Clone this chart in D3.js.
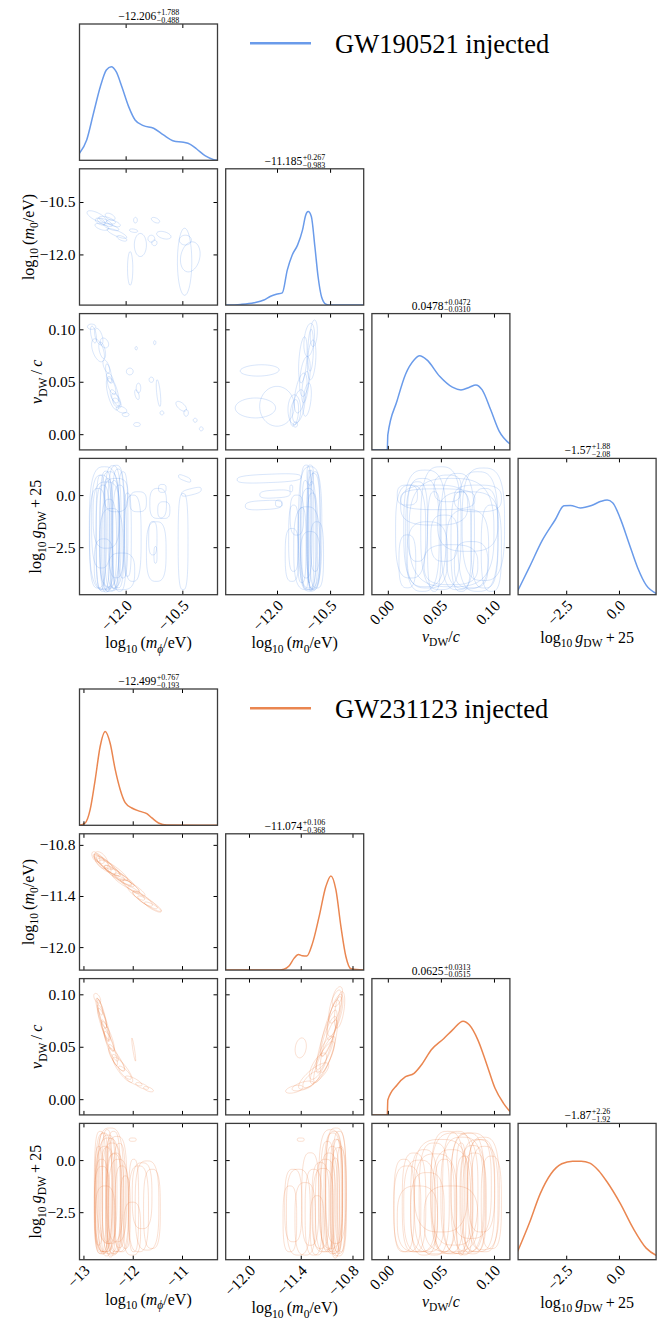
<!DOCTYPE html>
<html>
<head>
<meta charset="utf-8">
<script src="https://cdn.jsdelivr.net/npm/d3@7"></script>
<style>
  body { margin: 0; background: #fff; }
  svg text { fill: #000; }
</style>
</head>
<body>
<svg id="chart" width="667" height="1322"></svg>
<script>
// ---------- labels ----------
const labMphi = [["log", ""], ["10", "sub"], ["\u2009(", ""], ["m", "it"], ["\u03d5", "itsub"], ["/eV)", ""]];
const labM0 = [["log", ""], ["10", "sub"], ["\u2009(", ""], ["m", "it"], ["0", "sub"], ["/eV)", ""]];
const labV = [["v", "it"], ["DW", "sub"], ["/", ""], ["c", "it"]];
const labVy = [["v", "it"], ["DW", "sub"], ["\u2009/\u2009", ""], ["c", "it"]];
const labG = [["log", ""], ["10", "sub"], ["\u2009", ""], ["g", "it"], ["DW", "sub"], ["\u2009+\u200925", ""]];
const xLabels = [labMphi, labM0, labV, labG];
const yLabels = [null, labM0, labVy, labG];

// ---------- GW190521 (top) ----------
const rangesA = [[-13.22, -9.57], [-13.45, -9.55], [-0.015, 0.115], [-4.78, 1.76]];
const ticksA = [[-12.0, -10.5], [-12.0, -10.5], [0, 0.05, 0.10], [-2.5, 0.0]];
const tickLabelsA = [["\u221212.0", "\u221210.5"], ["\u221212.0", "\u221210.5"], ["0.00", "0.05", "0.10"], ["\u22122.5", "0.0"]];
const titlesA = [["\u221212.206", "+1.788", "\u22120.488"], ["\u221211.185", "+0.267", "\u22120.983"],
                 ["0.0478", "+0.0472", "\u22120.0310"], ["\u22121.57", "+1.88", "\u22122.08"]];

const kdeA0 = [[-13.22, 0.051], [-13.03, 0.149], [-12.85, 0.345], [-12.67, 0.54], [-12.51, 0.663], [-12.38, 0.687],
  [-12.25, 0.65], [-12.10, 0.54], [-11.92, 0.394], [-11.75, 0.296], [-11.53, 0.254], [-11.26, 0.235], [-11.00, 0.186],
  [-10.73, 0.142], [-10.47, 0.132], [-10.29, 0.117], [-10.12, 0.083], [-9.89, 0.032], [-9.67, 0.005], [-9.57, 0]];
const kdeA1 = [[-13.45, 0], [-13.03, 0.005], [-12.65, 0.017], [-12.37, 0.037], [-12.18, 0.065], [-12.02, 0.08],
  [-11.85, 0.09], [-11.71, 0.257], [-11.57, 0.368], [-11.42, 0.44], [-11.28, 0.55], [-11.19, 0.66], [-11.12, 0.686],
  [-11.03, 0.65], [-10.93, 0.43], [-10.84, 0.21], [-10.74, 0.06], [-10.62, 0.007], [-10.5, 0], [-9.55, 0]];
const kdeA2 = [[-0.015, 0], [-0.0005, 0], [0, 0.11], [0.0087, 0.36], [0.0167, 0.555], [0.0247, 0.66], [0.030, 0.69],
  [0.0368, 0.66], [0.0488, 0.54], [0.0608, 0.46], [0.0689, 0.44], [0.0769, 0.46], [0.0829, 0.477], [0.0889, 0.44],
  [0.0969, 0.294], [0.105, 0.136], [0.115, 0.044]];
const kdeA3 = [[-4.8, 0.027], [-4.25, 0.2], [-3.63, 0.4], [-3.02, 0.55], [-2.61, 0.652], [-2.3, 0.655], [-1.83, 0.637],
  [-1.3, 0.655], [-0.85, 0.685], [-0.56, 0.694], [-0.3, 0.675], [0.06, 0.56], [0.47, 0.38], [0.88, 0.2], [1.29, 0.07], [1.8, 0.007]];

// contour ellipses: [centre x, centre y, half width, half height, correlation]
const contA10 = [[-12.76, -10.92, 0.26, 0.17, -0.7], [-12.49, -11.02, 0.22, 0.11, -0.6], [-12.32, -11.11, 0.18, 0.10, -0.6],
  [-12.63, -11.21, 0.18, 0.10, -0.5], [-12.23, -11.40, 0.26, 0.14, -0.8], [-12.10, -11.54, 0.13, 0.08, -0.6],
  [-12.41, -10.92, 0.13, 0.10, -0.5], [-12.67, -11.06, 0.13, 0.10, -0.5], [-11.74, -11.02, 0.05, 0.08, 0],
  [-11.21, -11.02, 0.11, 0.08, -0.5], [-11.79, -11.32, 0.11, 0.05, -0.3], [-11.61, -11.73, 0.16, 0.33, 0],
  [-11.32, -11.55, 0.09, 0.10, 0], [-11.24, -11.67, 0.07, 0.08, 0], [-10.99, -11.45, 0.19, 0.11, -0.4],
  [-10.44, -12.21, 0.19, 0.96, 0], [-10.29, -12.07, 0.26, 0.43, 0.2], [-11.88, -12.40, 0.07, 0.48, 0], [-10.42, -11.59, 0.16, 0.14, 0],
  [-12.55, -11.08, 0.2, 0.12, -0.7], [-12.38, -11.22, 0.2, 0.1, -0.7]];
const contA20 = [[-12.90, 0.1025, 0.11, 0.0025, 0], [-12.71, 0.093, 0.11, 0.0079, -0.5], [-12.62, 0.080, 0.09, 0.0079, -0.5],
  [-12.56, 0.087, 0.11, 0.0047, -0.3], [-12.51, 0.0646, 0.09, 0.0063, -0.6], [-12.42, 0.0535, 0.09, 0.0047, -0.5],
  [-12.37, 0.0456, 0.11, 0.0079, -0.6], [-12.30, 0.0361, 0.11, 0.0063, -0.6], [-12.23, 0.0297, 0.11, 0.0047, -0.5],
  [-12.11, 0.0234, 0.14, 0.0032, -0.4], [-12.00, 0.0187, 0.09, 0.0019, 0], [-11.72, 0.082, 0.03, 0.0016, 0],
  [-11.23, 0.0873, 0.03, 0.0019, 0], [-11.89, 0.0598, 0.09, 0.0032, 0], [-11.70, 0.0377, 0.06, 0.0047, -0.5],
  [-11.66, 0.044, 0.06, 0.0047, 0], [-11.32, 0.0519, 0.06, 0.0025, 0], [-11.13, 0.0392, 0.06, 0.0127, -0.6],
  [-11.04, 0.0203, 0.05, 0.0019, 0], [-11.70, 0.0092, 0.09, 0.0019, 0], [-10.53, 0.0266, 0.14, 0.0047, -0.6],
  [-10.40, 0.0203, 0.06, 0.0032, 0], [-10.16, 0.0133, 0.05, 0.0019, 0], [-10.00, 0.0051, 0.05, 0.0019, 0],
  [-12.73, 0.080, 0.17, 0.011, -0.5], [-12.34, 0.039, 0.17, 0.016, -0.6], [-12.85, 0.095, 0.08, 0.008, -0.5],
  [-12.45, 0.058, 0.08, 0.009, -0.6], [-12.25, 0.033, 0.12, 0.006, -0.6]];
const contA21 = [[-12.49, 0.0608, 0.55, 0.0054, 0.1], [-12.61, 0.025, 0.57, 0.0095, 0], [-12.0, 0.0266, 0.49, 0.019, 0],
  [-11.51, 0.0234, 0.18, 0.0142, 0], [-11.09, 0.0899, 0.15, 0.0158, 0.3], [-11.02, 0.0709, 0.12, 0.019, 0.3],
  [-11.21, 0.055, 0.15, 0.019, 0.4], [-11.33, 0.0392, 0.18, 0.019, 0.5], [-11.39, 0.0266, 0.18, 0.0158, 0.4],
  [-10.96, 0.0962, 0.10, 0.0127, 0.2], [-11.15, 0.0329, 0.12, 0.0158, 0.4], [-11.51, 0.0203, 0.12, 0.0127, 0.3],
  [-11.27, 0.0709, 0.12, 0.022, 0.4], [-11.48, 0.0092, 0.06, 0.0025, 0], [-11.05, 0.08, 0.08, 0.02, 0.2],
  [-11.2, 0.045, 0.1, 0.015, 0.5]];
const contA30 = [[-12.56, -1.59, 0.40, 2.95, 0], [-12.42, -1.75, 0.26, 2.87, 0], [-12.60, -2.07, 0.18, 2.55, 0],
  [-12.47, -1.91, 0.13, 2.71, 0], [-12.34, -1.59, 0.22, 3.0, 0], [-12.25, -1.27, 0.22, 2.7, 0], [-12.16, -2.07, 0.18, 2.55, 0],
  [-12.64, -1.27, 0.26, 2.23, 0], [-12.73, -2.07, 0.22, 2.39, 0], [-12.38, -2.55, 0.31, 1.91, 0], [-12.51, -0.96, 0.35, 1.59, 0],
  [-12.07, -1.43, 0.13, 2.55, 0], [-11.81, -2.07, 0.22, 2.07, 0], [-11.67, -0.32, 0.22, 0.48, 0], [-12.11, -3.66, 0.35, 0.88, 0],
  [-12.25, 0.0, 0.31, 0.80, 0], [-11.14, -0.40, 0.22, 0.72, 0], [-11.03, 0.32, 0.10, 0.19, 0], [-11.19, -2.71, 0.26, 1.43, 0],
  [-11.28, -2.07, 0.11, 0.80, 0], [-11.21, -2.87, 0.04, 0.40, 0], [-10.48, -2.23, 0.13, 2.31, 0], [-10.26, 0.16, 0.26, 0.19, 0.6],
  [-10.44, 0.80, 0.16, 0.16, -0.7], [-10.99, -0.72, 0.16, 0.40, 0], [-12.52, -1.75, 0.16, 2.9, 0], [-12.30, -1.9, 0.12, 2.6, 0],
  [-12.44, -2.3, 0.2, 2.1, 0], [-12.66, -1.8, 0.12, 2.75, 0], [-12.2, -1.6, 0.16, 2.85, 0], [-11.95, -1.9, 0.1, 2.0, 0],
  [-12.58, -3.3, 0.25, 1.2, 0]];
const contA31 = [[-12.225, 0.80, 0.90, 0.21, 0.3], [-12.056, 0.05, 0.43, 0.19, 0.2], [-12.375, -0.48, 0.52, 0.22, 0.2],
  [-11.953, -0.40, 0.09, 0.16, 0], [-11.597, 0.32, 0.04, 0.16, 0], [-11.063, -1.59, 0.33, 2.95, 0], [-10.969, -1.75, 0.19, 2.79, 0],
  [-11.016, -1.91, 0.11, 2.55, 0], [-11.110, -2.07, 0.23, 2.39, 0], [-10.922, -1.27, 0.14, 2.39, 0], [-11.157, -2.55, 0.37, 1.99, 0],
  [-11.531, -2.07, 0.14, 1.59, 0], [-11.438, -0.96, 0.19, 0.96, 0], [-10.875, -2.87, 0.19, 1.59, 0], [-11.063, -3.18, 0.28, 1.43, 0],
  [-11.175, -1.27, 0.17, 2.71, 0], [-11.063, 0.96, 0.09, 0.48, 0], [-11.578, -2.87, 0.19, 1.27, 0], [-11.04, -1.7, 0.08, 2.9, 0],
  [-11.0, -2.2, 0.15, 2.3, 0], [-11.09, -1.5, 0.06, 2.7, 0], [-11.2, -1.9, 0.1, 2.6, 0], [-11.3, -2.4, 0.12, 1.8, 0]];
const contA32 = [[0.0215, -1.75, 0.0142, 2.23, 0], [0.0326, -1.91, 0.0158, 2.71, 0], [0.050, -1.59, 0.019, 2.95, 0],
  [0.0658, -1.75, 0.0158, 2.79, 0], [0.0848, -1.75, 0.019, 2.87, 0], [0.0911, -2.07, 0.0127, 2.39, 0], [0.0753, -1.27, 0.0285, 1.43, 0],
  [0.0532, -2.07, 0.0127, 1.11, 0], [0.0595, -3.34, 0.0253, 0.96, 0], [0.0373, -2.87, 0.019, 1.59, 0], [0.0184, 0.0, 0.0095, 0.48, 0],
  [0.0848, -0.16, 0.0222, 0.64, 0], [0.0437, -0.48, 0.0316, 0.96, 0], [0.0785, -3.34, 0.0158, 1.11, 0], [0.0279, -1.27, 0.0095, 1.91, 0],
  [0.0975, -2.55, 0.0095, 2.07, 0], [0.0563, 0.32, 0.0127, 0.64, 0], [0.069, -2.23, 0.0095, 2.39, 0], [0.0184, -3.18, 0.0079, 1.27, 0],
  [0.0437, -2.23, 0.0063, 2.39, 0], [0.06, -1.8, 0.04, 2.6, 0], [0.035, -1.6, 0.02, 2.8, 0], [0.09, -1.4, 0.02, 2.7, 0],
  [0.075, -2.6, 0.02, 1.9, 0], [0.047, -0.2, 0.035, 0.5, 0]];

// ---------- GW231123 (bottom) ----------
const rangesB = [[-13.08, -10.28], [-12.27, -10.67], [-0.015, 0.115], [-4.78, 1.76]];
const ticksB = [[-13, -12, -11], [-12.0, -11.4, -10.8], [0, 0.05, 0.10], [-2.5, 0.0]];
const tickLabelsB = [["\u221213", "\u221212", "\u221211"], ["\u221212.0", "\u221211.4", "\u221210.8"], ["0.00", "0.05", "0.10"], ["\u22122.5", "0.0"]];
const titlesB = [["\u221212.499", "+0.767", "\u22120.193"], ["\u221211.074", "+0.106", "\u22120.368"],
                 ["0.0625", "+0.0313", "\u22120.0515"], ["\u22121.87", "+2.26", "\u22121.92"]];

const kdeB0 = [[-13.08, 0], [-12.965, 0.017], [-12.864, 0.115], [-12.762, 0.334], [-12.661, 0.578], [-12.559, 0.688],
  [-12.458, 0.602], [-12.356, 0.41], [-12.255, 0.263], [-12.153, 0.166], [-12.018, 0.127], [-11.849, 0.102], [-11.714, 0.085],
  [-11.612, 0.054], [-11.477, 0.017], [-11.308, 0.002], [-10.28, 0]];
const kdeB1 = [[-12.27, 0], [-11.672, 0], [-11.594, 0.007], [-11.536, 0.03], [-11.478, 0.086], [-11.427, 0.115], [-11.381, 0.105],
  [-11.33, 0.103], [-11.264, 0.196], [-11.187, 0.392], [-11.109, 0.613], [-11.05, 0.691], [-10.992, 0.588], [-10.934, 0.319],
  [-10.876, 0.098], [-10.818, 0.01], [-10.67, 0]];
const kdeB2 = [[-0.015, 0], [-0.0005, 0], [0, 0.11], [0.0087, 0.22], [0.0167, 0.28], [0.0247, 0.305], [0.0327, 0.378],
  [0.0408, 0.476], [0.0528, 0.561], [0.0608, 0.622], [0.0709, 0.688], [0.0769, 0.659], [0.0849, 0.549], [0.0929, 0.378],
  [0.101, 0.195], [0.109, 0.085], [0.115, 0.024]];
const kdeB3 = [[-4.8, 0.061], [-4.25, 0.267], [-3.73, 0.485], [-3.22, 0.631], [-2.71, 0.704], [-2.2, 0.723], [-1.79, 0.723],
  [-1.38, 0.709], [-0.97, 0.655], [-0.56, 0.57], [0.06, 0.413], [0.67, 0.231], [1.29, 0.085], [1.8, 0.029]];

const contB10 = [[-12.68, -10.96, 0.10, 0.06, -0.6], [-12.61, -11.02, 0.17, 0.10, -0.8], [-12.54, -11.04, 0.20, 0.10, -0.85],
  [-12.47, -11.07, 0.20, 0.09, -0.85], [-12.37, -11.13, 0.20, 0.09, -0.85], [-12.27, -11.17, 0.24, 0.10, -0.9],
  [-12.17, -11.21, 0.20, 0.08, -0.85], [-12.03, -11.29, 0.17, 0.08, -0.85], [-11.93, -11.37, 0.17, 0.08, -0.85],
  [-11.80, -11.43, 0.20, 0.09, -0.85], [-11.66, -11.49, 0.24, 0.09, -0.9], [-11.59, -11.53, 0.17, 0.06, -0.85],
  [-12.64, -10.98, 0.14, 0.10, -0.5], [-12.41, -11.09, 0.31, 0.13, -0.9], [-12.14, -11.25, 0.27, 0.10, -0.9], [-12.75, -10.94, 0.08, 0.06, -0.5],
  [-12.5, -11.05, 0.25, 0.12, -0.9], [-12.3, -11.16, 0.28, 0.12, -0.9], [-12.0, -11.3, 0.25, 0.1, -0.9], [-11.75, -11.45, 0.25, 0.1, -0.9],
  [-12.6, -11.0, 0.2, 0.09, -0.85]];
const contB20 = [[-12.72, 0.0962, 0.07, 0.0047, -0.5], [-12.68, 0.0883, 0.07, 0.0079, -0.7], [-12.62, 0.0773, 0.09, 0.0095, -0.8],
  [-12.55, 0.0662, 0.09, 0.0095, -0.8], [-12.48, 0.0552, 0.10, 0.0095, -0.8], [-12.39, 0.0442, 0.10, 0.0079, -0.8],
  [-12.29, 0.0347, 0.13, 0.0079, -0.8], [-12.16, 0.0252, 0.13, 0.0063, -0.8], [-11.98, 0.0174, 0.17, 0.0047, -0.8],
  [-11.81, 0.0126, 0.13, 0.0032, -0.7], [-11.68, 0.0095, 0.10, 0.0025, -0.6], [-12.63, 0.082, 0.10, 0.0142, -0.85],
  [-12.50, 0.060, 0.13, 0.0142, -0.85], [-12.33, 0.0379, 0.16, 0.011, -0.85], [-11.98, 0.0473, 0.04, 0.011, -0.9],
  [-12.59, 0.0726, 0.13, 0.0174, -0.85], [-12.6, 0.075, 0.11, 0.02, -0.9], [-12.45, 0.05, 0.14, 0.018, -0.9], [-12.2, 0.028, 0.2, 0.012, -0.85]];
const contB21 = [[-11.40, 0.0489, 0.065, 0.0095, 0.2], [-11.475, 0.0095, 0.10, 0.0038, 0.5], [-11.375, 0.0126, 0.125, 0.0047, 0.6],
  [-11.275, 0.0189, 0.10, 0.0079, 0.7], [-11.20, 0.0315, 0.10, 0.0126, 0.7], [-11.125, 0.0442, 0.10, 0.0158, 0.8],
  [-11.075, 0.060, 0.09, 0.019, 0.8], [-11.025, 0.0757, 0.075, 0.019, 0.7], [-11.00, 0.0883, 0.075, 0.0158, 0.6],
  [-10.975, 0.0978, 0.06, 0.0095, 0.5], [-11.05, 0.0694, 0.125, 0.0284, 0.85], [-11.125, 0.0379, 0.125, 0.022, 0.85],
  [-11.25, 0.0221, 0.175, 0.0126, 0.8], [-10.95, 0.0852, 0.06, 0.0174, 0.5], [-11.075, 0.0505, 0.10, 0.025, 0.8],
  [-11.1, 0.055, 0.12, 0.03, 0.85], [-11.0, 0.08, 0.09, 0.02, 0.7], [-11.15, 0.035, 0.14, 0.02, 0.85]];
const contB30 = [[-12.66, -1.55, 0.12, 2.93, 0], [-12.59, -1.55, 0.17, 2.85, 0], [-12.56, -1.87, 0.20, 2.53, 0],
  [-12.52, -1.23, 0.10, 2.69, 0], [-12.49, -1.71, 0.24, 2.77, 0], [-12.63, -2.18, 0.14, 2.22, 0], [-12.42, -1.87, 0.20, 2.69, 0],
  [-12.35, -2.03, 0.17, 2.37, 0], [-12.69, -1.71, 0.08, 2.37, 0], [-12.29, -2.18, 0.20, 2.22, 0], [-12.46, -1.23, 0.27, 2.77, 0],
  [-12.22, -2.34, 0.14, 2.06, 0], [-12.15, -2.50, 0.10, 1.74, 0], [-12.39, -1.55, 0.14, 2.93, 0], [-12.32, -1.39, 0.20, 2.53, 0],
  [-11.88, -2.34, 0.20, 2.06, 0], [-11.71, -2.18, 0.24, 2.14, 0], [-11.61, -2.34, 0.17, 1.90, 0], [-11.98, -2.18, 0.10, 2.22, 0],
  [-12.00, 0.98, 0.07, 0.08, 0], [-12.56, -2.82, 0.20, 1.58, 0], [-12.01, -3.29, 0.17, 1.27, 0], [-11.81, -1.71, 0.20, 1.58, 0],
  [-12.6, -1.6, 0.1, 2.9, 0], [-12.53, -2.0, 0.12, 2.6, 0], [-12.45, -1.8, 0.1, 2.85, 0], [-12.38, -2.1, 0.16, 2.4, 0],
  [-12.62, -2.4, 0.16, 2.1, 0], [-12.27, -1.7, 0.12, 2.5, 0], [-12.5, -1.4, 0.18, 2.6, 0]];
const contB31 = [[-11.013, -1.55, 0.099, 2.93, 0], [-10.974, -1.71, 0.059, 2.69, 0], [-11.033, -1.87, 0.079, 2.53, 0],
  [-10.993, -1.23, 0.118, 2.77, 0], [-11.072, -2.03, 0.099, 2.37, 0], [-10.934, -1.87, 0.047, 2.53, 0], [-11.112, -2.18, 0.118, 2.22, 0],
  [-11.053, -1.39, 0.138, 2.85, 0], [-10.954, -1.55, 0.079, 2.93, 0], [-11.171, -2.18, 0.099, 2.06, 0], [-11.25, -2.50, 0.099, 2.06, 0],
  [-11.349, -2.82, 0.118, 1.74, 0], [-11.428, -2.50, 0.138, 2.06, 0], [-11.487, -2.18, 0.099, 1.74, 0], [-11.289, -1.87, 0.099, 2.22, 0],
  [-11.40, 0.98, 0.04, 0.08, 0], [-11.21, -3.13, 0.079, 1.42, 0], [-11.526, -2.82, 0.079, 1.58, 0], [-10.99, -1.8, 0.07, 2.8, 0],
  [-11.03, -1.6, 0.1, 2.9, 0], [-10.96, -2.0, 0.09, 2.6, 0], [-11.09, -1.7, 0.08, 2.6, 0], [-11.14, -2.4, 0.12, 2.0, 0], [-11.0, -2.3, 0.05, 2.4, 0]];
const contB32 = [[0.0152, -2.18, 0.0095, 2.22, 0], [0.0247, -2.03, 0.0111, 2.37, 0], [0.0342, -2.03, 0.0127, 2.53, 0],
  [0.0437, -1.87, 0.0142, 2.69, 0], [0.0563, -1.55, 0.0158, 2.93, 0], [0.0658, -1.55, 0.0142, 2.93, 0], [0.0753, -1.55, 0.0158, 2.85, 0],
  [0.0848, -1.71, 0.0158, 2.69, 0], [0.0911, -1.87, 0.0127, 2.53, 0], [0.0975, -2.03, 0.0095, 2.22, 0], [0.0627, -1.39, 0.0222, 2.69, 0],
  [0.0785, -1.23, 0.019, 2.53, 0], [0.0532, -2.18, 0.0095, 2.22, 0], [0.0722, -2.18, 0.0079, 2.37, 0], [0.0817, -2.03, 0.0111, 2.37, 0],
  [0.0184, -2.34, 0.0127, 2.06, 0], [0.0373, -2.50, 0.0158, 1.90, 0], [0.0595, -2.82, 0.0253, 1.58, 0], [0.088, -1.23, 0.0127, 2.22, 0],
  [0.050, -1.23, 0.0253, 2.22, 0], [0.069, -1.87, 0.0047, 2.69, 0], [0.0279, -2.82, 0.019, 1.58, 0], [0.07, -1.7, 0.02, 2.8, 0],
  [0.08, -1.9, 0.012, 2.6, 0], [0.06, -2.0, 0.018, 2.5, 0], [0.045, -2.1, 0.02, 2.4, 0], [0.09, -1.6, 0.015, 2.7, 0], [0.03, -2.2, 0.015, 2.2, 0]];

// ---------- layout ----------
const colX0 = 79.5, colPitch = 146.2, panelW = 138;
const rowPitch = 144.8, panelH = 136.3;
const tickFont = 15.5, labelFont = 16;
const serif = "'Liberation Serif', serif";

const svg = d3.select("#chart");

function richText(sel, segs, size) {
  let shift = 0;
  segs.forEach(([t, st]) => {
    const sub = st.includes("sub");
    const target = sub ? size * 0.28 : 0;
    sel.append("tspan")
      .attr("dy", target - shift)
      .attr("font-size", sub ? size * 0.72 : size)
      .attr("font-style", st.startsWith("it") ? "italic" : "normal")
      .text(t);
    shift = target;
  });
}

// closed contour outline around a (super)ellipse, in data units
function contourPts(e, power) {
  const [cx, cy, sx, sy, r] = e;
  const q = Math.sqrt(1 - r * r);
  return d3.range(73).map(k => {
    const t = k / 72 * 2 * Math.PI;
    const c = Math.cos(t), s = Math.sin(t);
    const u = Math.sign(c) * Math.pow(Math.abs(c), 2 / power);
    const v = Math.sign(s) * Math.pow(Math.abs(s), 2 / power);
    return [cx + sx * u, cy + sy * (r * u + q * v)];
  });
}

function drawCorner(top, P) {
  for (let i = 0; i < 4; i++) {
    for (let j = 0; j <= i; j++) {
      const px = colX0 + j * colPitch, py = top + i * rowPitch;
      const x = d3.scaleLinear().domain(P.ranges[j]).range([px, px + panelW]);
      const y = i === j
        ? d3.scaleLinear().domain([0, 1]).range([py + panelH, py])
        : d3.scaleLinear().domain(P.ranges[i]).range([py + panelH, py]);

      const clipId = `clip-${P.key}-${i}${j}`;
      svg.append("clipPath").attr("id", clipId)
        .append("rect").attr("x", px).attr("y", py).attr("width", panelW).attr("height", panelH);

      const g = svg.append("g");
      const inner = g.append("g").attr("clip-path", `url(#${clipId})`);

      if (i === j) {
        inner.append("path")
          .datum(P.kde[i])
          .attr("fill", "none")
          .attr("stroke", P.color)
          .attr("stroke-width", 1.5)
          .attr("d", d3.line().x(d => x(d[0])).y(d => y(d[1])).curve(d3.curveMonotoneX));
      } else {
        const power = i === 3 ? 3 : 2;
        const line = d3.line().x(d => x(d[0])).y(d => y(d[1])).curve(d3.curveLinearClosed);
        inner.selectAll("path.ct")
          .data(P.cont[`${i}${j}`])
          .join("path")
          .attr("class", "ct")
          .attr("fill", "none")
          .attr("stroke", P.color)
          .attr("stroke-opacity", 0.3)
          .attr("stroke-width", 0.85)
          .attr("d", e => line(contourPts(e, power)));
      }

      // inward ticks on every side
      const fmtB = i === 3 ? (d, k) => P.tickLabels[j][k] : "";
      const axB = g.append("g").attr("transform", `translate(0,${py + panelH})`)
        .call(d3.axisBottom(x).tickValues(P.ticks[j]).tickSize(-4).tickSizeOuter(0).tickPadding(0).tickFormat(fmtB));
      g.append("g").attr("transform", `translate(0,${py})`)
        .call(d3.axisTop(x).tickValues(P.ticks[j]).tickSize(-4).tickSizeOuter(0).tickFormat(""));

      let axL = null;
      if (i !== j) {
        const fmtL = j === 0 ? (d, k) => P.tickLabels[i][k] : "";
        axL = g.append("g").attr("transform", `translate(${px},0)`)
          .call(d3.axisLeft(y).tickValues(P.ticks[i]).tickSize(-4).tickSizeOuter(0).tickPadding(4).tickFormat(fmtL));
        g.append("g").attr("transform", `translate(${px + panelW},0)`)
          .call(d3.axisRight(y).tickValues(P.ticks[i]).tickSize(-4).tickSizeOuter(0).tickFormat(""));
      }
      g.selectAll(".domain").remove();
      g.selectAll(".tick line").attr("stroke", "#000").attr("stroke-width", 1);
      g.selectAll("g text").attr("font-family", serif).attr("font-size", tickFont).attr("fill", "#000");

      axB.selectAll("text")
        .attr("x", 0).attr("y", 0).attr("dy", "0.35em")
        .attr("text-anchor", "end")
        .attr("transform", "translate(3,8) rotate(-45)");

      // frame
      g.append("rect")
        .attr("x", px).attr("y", py).attr("width", panelW).attr("height", panelH)
        .attr("fill", "none").attr("stroke", "#3c3c3c").attr("stroke-width", 1.3);

      // axis labels, placed clear of the tick labels
      if (i === 3) {
        const bb = axB.node().getBBox();
        const t = svg.append("text")
          .attr("font-family", serif)
          .attr("x", px + panelW / 2)
          .attr("y", py + panelH + bb.y + bb.height + 14)
          .attr("text-anchor", "middle");
        richText(t, xLabels[j], labelFont);
      }
      if (axL && j === 0) {
        const bb = axL.node().getBBox();
        const lx = px + bb.x - 6, ly = py + panelH / 2;
        const t = svg.append("text")
          .attr("font-family", serif)
          .attr("transform", `translate(${lx},${ly}) rotate(-90)`)
          .attr("text-anchor", "middle");
        richText(t, yLabels[i], labelFont);
      }

      // quantile title over diagonal panels
      if (i === j) {
        const [m, up, lo] = P.titles[i];
        const tg = svg.append("g").attr("font-family", serif);
        const tm = tg.append("text").attr("font-size", 11.5).attr("y", py - 4).text(m);
        const ts = tg.append("text").attr("font-size", 8).attr("y", py - 9).text(up);
        const tl = tg.append("text").attr("font-size", 8).attr("y", py - 1.2).text(lo);
        const w1 = tm.node().getComputedTextLength();
        const w2 = Math.max(ts.node().getComputedTextLength(), tl.node().getComputedTextLength());
        const x0 = px + panelW / 2 - (w1 + w2) / 2;
        tm.attr("x", x0);
        ts.attr("x", x0 + w1 + 0.5);
        tl.attr("x", x0 + w1 + 0.5);
      }
    }
  }

  // legend
  svg.append("line")
    .attr("x1", 250).attr("x2", 311).attr("y1", top + 19.3).attr("y2", top + 19.3)
    .attr("stroke", P.color).attr("stroke-width", 2.5);
  svg.append("text")
    .attr("x", 335).attr("y", top + 29.3)
    .attr("font-family", serif)
    .attr("font-size", 26.5)
    .text(P.name);
}

drawCorner(24, {
  key: "a", name: "GW190521 injected", color: "#6a9bea",
  ranges: rangesA, ticks: ticksA, tickLabels: tickLabelsA, titles: titlesA,
  kde: [kdeA0, kdeA1, kdeA2, kdeA3],
  cont: { "10": contA10, "20": contA20, "21": contA21, "30": contA30, "31": contA31, "32": contA32 }
});

drawCorner(689, {
  key: "b", name: "GW231123 injected", color: "#ea8650",
  ranges: rangesB, ticks: ticksB, tickLabels: tickLabelsB, titles: titlesB,
  kde: [kdeB0, kdeB1, kdeB2, kdeB3],
  cont: { "10": contB10, "20": contB20, "21": contB21, "30": contB30, "31": contB31, "32": contB32 }
});
</script>
</body>
</html>
